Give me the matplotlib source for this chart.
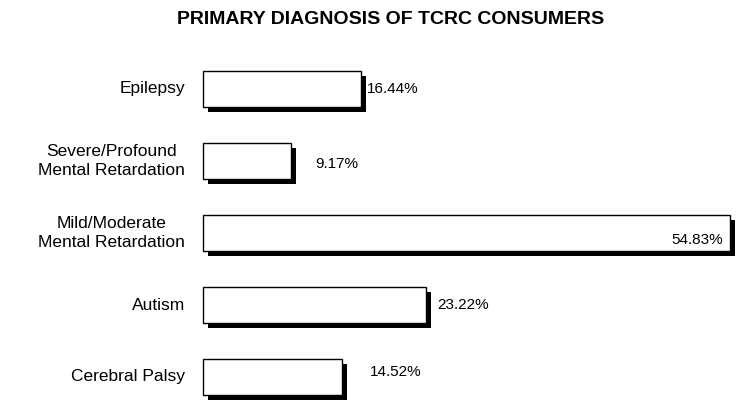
import matplotlib
matplotlib.use('Agg')
import matplotlib.pyplot as plt
import matplotlib.patheffects as pe

plt.rcParams['font.family'] = ['Liberation Sans', 'DejaVu Sans']

# data, top to bottom
categories = ['Epilepsy',
              'Severe/Profound\nMental Retardation',
              'Mild/Moderate\nMental Retardation',
              'Autism',
              'Cerebral Palsy']
values = [16.44, 9.17, 54.83, 23.22, 14.52]
value_labels = ['16.44%', '9.17%', '54.83%', '23.22%', '14.52%']

fig = plt.figure(figsize=(7.43, 4.0), dpi=100)
ax = fig.add_axes([203 / 743, 0.0, 538 / 743, 1.0])

ypos = list(range(len(categories)))
bars = ax.barh(ypos, values, height=0.5, color='white', edgecolor='black',
               linewidth=1.0, clip_on=False)
for b in bars:
    b.set_path_effects([pe.SimplePatchShadow(offset=(3.6, -3.6), shadow_rgbFace='black', alpha=1.0),
                        pe.Normal()])

# rows are 72px apart, first row centred at y=89px
ax.set_xlim(0, 56)
ax.set_ylim((400 - 89) / 72, -89 / 72)
ax.axis('off')

for y, cat in zip(ypos, categories):
    ax.annotate(cat, xy=(0, y), xytext=(-18, 0), textcoords='offset pixels',
                ha='right', va='center', multialignment='center',
                fontsize=12.5, linespacing=1.4)

# value labels sit a bit differently for each bar (pixel offsets)
offsets = [(6, 0), (24, -3), (-7, -7), (11, 0), (27, 5)]
for y, v, lab, off in zip(ypos, values, value_labels, offsets):
    ha = 'right' if off[0] < 0 else 'left'
    ax.annotate(lab, xy=(v, y), xytext=off, textcoords='offset pixels',
                ha=ha, va='center', fontsize=11)

fig.text(391 / 743, 1 - 19 / 400, 'PRIMARY DIAGNOSIS OF TCRC CONSUMERS',
         ha='center', va='center', fontsize=14, fontweight='bold')

fig.savefig('out.png', dpi=100)
